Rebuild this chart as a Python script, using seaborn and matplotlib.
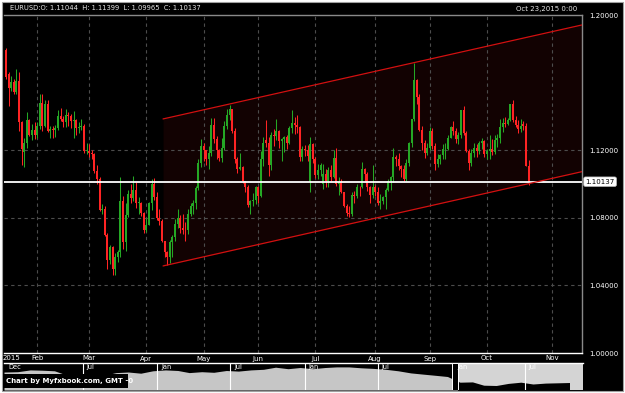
import numpy as np
import pandas as pd
import matplotlib
matplotlib.use("Agg")
import matplotlib.pyplot as plt
import matplotlib.transforms as mtrans
import matplotlib.dates as mdates
from matplotlib.patches import Rectangle
import seaborn as sns

# ------------------------------------------------------------------ data
first_day = "2015-01-15"
last_day = "2015-10-23"

opens = [1.1790, 1.1650, 1.1567, 1.1605, 1.1545, 1.1610, 1.1365, 1.1190, 1.1245, 1.1380,
         1.1290, 1.1320, 1.1290, 1.1345, 1.1480, 1.1345, 1.1475, 1.1315, 1.1325, 1.1320,
         1.1330, 1.1400, 1.1385, 1.1365, 1.1410, 1.1405, 1.1375, 1.1380, 1.1330, 1.1335,
         1.1345, 1.1195, 1.1195, 1.1185, 1.1175, 1.1075, 1.1030, 1.0845, 1.0850, 1.0700,
         1.0550, 1.0630, 1.0495, 1.0570, 1.0595, 1.0900, 1.0655, 1.0815, 1.0940, 1.0920,
         1.0965, 1.0890, 1.0890, 1.0830, 1.0730, 1.0760, 1.0885, 1.1000, 1.0925, 1.0800,
         1.0780, 1.0660, 1.0600, 1.0570, 1.0655, 1.0685, 1.0765, 1.0800, 1.0740, 1.0730,
         1.0725, 1.0825, 1.0870, 1.0885, 1.0975, 1.1125, 1.1225, 1.1200, 1.1145, 1.1185,
         1.1350, 1.1265, 1.1200, 1.1155, 1.1215, 1.1345, 1.1410, 1.1445, 1.1315, 1.1145,
         1.1090, 1.1100, 1.1015, 1.0985, 1.0875, 1.0900, 1.0905, 1.0985, 1.0930, 1.1150,
         1.1260, 1.1245, 1.1110, 1.1290, 1.1285, 1.1315, 1.1255, 1.1265, 1.1280, 1.1245,
         1.1330, 1.1360, 1.1350, 1.1335, 1.1160, 1.1210, 1.1200, 1.1010, 1.1235, 1.1145,
         1.1055, 1.1085, 1.1000, 1.1060, 1.1015, 1.1080, 1.1040, 1.1155, 1.1000, 1.1010,
         1.0950, 1.0870, 1.0830, 1.0825, 1.0935, 1.0930, 1.0985, 1.0980, 1.1090, 1.1060,
         1.0985, 1.0935, 1.0985, 1.0955, 1.0890, 1.0900, 1.0925, 1.0965, 1.1015, 1.1040,
         1.1160, 1.1150, 1.1105, 1.1090, 1.1030, 1.1125, 1.1240, 1.1385, 1.1615, 1.1515,
         1.1320, 1.1245, 1.1185, 1.1215, 1.1315, 1.1225, 1.1120, 1.1150, 1.1170, 1.1205,
         1.1210, 1.1275, 1.1340, 1.1315, 1.1265, 1.1290, 1.1435, 1.1300, 1.1195, 1.1125,
         1.1185, 1.1215, 1.1195, 1.1240, 1.1255, 1.1175, 1.1195, 1.1210, 1.1190, 1.1260,
         1.1275, 1.1340, 1.1360, 1.1355, 1.1380, 1.1475, 1.1380, 1.1350, 1.1325, 1.1355,
         1.1345, 1.11044]
highs = [1.1802, 1.1660, 1.1640, 1.1620, 1.1680, 1.1660, 1.1370, 1.1270, 1.1425, 1.1385,
         1.1355, 1.1365, 1.1365, 1.1535, 1.1535, 1.1495, 1.1500, 1.1345, 1.1345, 1.1350,
         1.1435, 1.1450, 1.1405, 1.1445, 1.1425, 1.1415, 1.1430, 1.1385, 1.1365, 1.1385,
         1.1355, 1.1240, 1.1235, 1.1200, 1.1185, 1.1115, 1.1040, 1.0880, 1.0870, 1.0710,
         1.0640, 1.0635, 1.0590, 1.0610, 1.1043, 1.0930, 1.0890, 1.0965, 1.1000, 1.1050,
         1.1010, 1.0925, 1.0895, 1.0835, 1.0800, 1.0895, 1.1030, 1.1035, 1.0950, 1.0850,
         1.0790, 1.0665, 1.0605, 1.0670, 1.0700, 1.0790, 1.0850, 1.0815, 1.0820, 1.0775,
         1.0850, 1.0885, 1.0905, 1.0990, 1.1145, 1.1265, 1.1240, 1.1200, 1.1225, 1.1390,
         1.1390, 1.1285, 1.1210, 1.1275, 1.1375, 1.1445, 1.1467, 1.1445, 1.1330, 1.1160,
         1.1185, 1.1105, 1.1020, 1.0995, 1.0905, 1.0945, 1.0990, 1.0990, 1.1195, 1.1280,
         1.1380, 1.1280, 1.1305, 1.1325, 1.1385, 1.1320, 1.1275, 1.1285, 1.1290, 1.1345,
         1.1435, 1.1395, 1.1410, 1.1345, 1.1225, 1.1230, 1.1230, 1.1280, 1.1240, 1.1160,
         1.1120, 1.1125, 1.1120, 1.1090, 1.1100, 1.1115, 1.1200, 1.1215, 1.1040, 1.1030,
         1.0955, 1.0880, 1.0870, 1.0950, 1.0960, 1.1000, 1.0990, 1.1130, 1.1095, 1.1070,
         1.0990, 1.1110, 1.0995, 1.0980, 1.0940, 1.0930, 1.0975, 1.1030, 1.1050, 1.1215,
         1.1170, 1.1185, 1.1115, 1.1110, 1.1145, 1.1250, 1.1385, 1.1714, 1.1620, 1.1535,
         1.1345, 1.1260, 1.1240, 1.1335, 1.1330, 1.1245, 1.1175, 1.1175, 1.1235, 1.1245,
         1.1290, 1.1345, 1.1370, 1.1330, 1.1305, 1.1440, 1.1460, 1.1315, 1.1205, 1.1205,
         1.1245, 1.1235, 1.1255, 1.1270, 1.1260, 1.1205, 1.1290, 1.1265, 1.1290, 1.1295,
         1.1385, 1.1390, 1.1395, 1.1390, 1.1475, 1.1495, 1.1400, 1.1380, 1.1385, 1.1375,
         1.1360, 1.11399]
lows = [1.1620, 1.1460, 1.1550, 1.1535, 1.1530, 1.1315, 1.1115, 1.1098, 1.1215, 1.1285,
        1.1260, 1.1265, 1.1270, 1.1325, 1.1315, 1.1340, 1.1310, 1.1270, 1.1270, 1.1280,
        1.1320, 1.1375, 1.1340, 1.1335, 1.1345, 1.1330, 1.1275, 1.1290, 1.1300, 1.1320,
        1.1185, 1.1175, 1.1160, 1.1145, 1.1065, 1.1000, 1.0840, 1.0820, 1.0695, 1.0495,
        1.0525, 1.0460, 1.0460, 1.0540, 1.0570, 1.0615, 1.0605, 1.0805, 1.0885, 1.0900,
        1.0860, 1.0825, 1.0810, 1.0710, 1.0715, 1.0755, 1.0845, 1.0905, 1.0785, 1.0760,
        1.0655, 1.0570, 1.0520, 1.0535, 1.0570, 1.0660, 1.0740, 1.0710, 1.0705, 1.0660,
        1.0705, 1.0810, 1.0820, 1.0850, 1.0965, 1.1100, 1.1135, 1.1110, 1.1090, 1.1165,
        1.1245, 1.1145, 1.1135, 1.1130, 1.1200, 1.1325, 1.1380, 1.1300, 1.1125, 1.1065,
        1.1080, 1.1005, 1.0955, 1.0865, 1.0820, 1.0870, 1.0880, 1.0885, 1.0925, 1.1105,
        1.1220, 1.1050, 1.1080, 1.1225, 1.1260, 1.1215, 1.1135, 1.1190, 1.1205, 1.1235,
        1.1300, 1.1295, 1.1300, 1.1135, 1.1135, 1.1165, 1.1135, 1.0955, 1.1125, 1.1035,
        1.1030, 1.1050, 1.0970, 1.0985, 1.0985, 1.1015, 1.1035, 1.0990, 1.0935, 1.0945,
        1.0865, 1.0810, 1.0805, 1.0810, 1.0890, 1.0920, 1.0930, 1.0975, 1.1010, 1.0960,
        1.0885, 1.0920, 1.0930, 1.0875, 1.0850, 1.0880, 1.0850, 1.0960, 1.0965, 1.1010,
        1.1105, 1.1085, 1.1040, 1.1015, 1.1015, 1.1105, 1.1220, 1.1375, 1.1475, 1.1315,
        1.1200, 1.1155, 1.1170, 1.1200, 1.1205, 1.1085, 1.1100, 1.1120, 1.1150, 1.1150,
        1.1200, 1.1270, 1.1290, 1.1245, 1.1235, 1.1275, 1.1290, 1.1190, 1.1085, 1.1105,
        1.1160, 1.1160, 1.1175, 1.1205, 1.1160, 1.1150, 1.1150, 1.1170, 1.1180, 1.1220,
        1.1245, 1.1310, 1.1340, 1.1350, 1.1370, 1.1365, 1.1335, 1.1300, 1.1310, 1.1320,
        1.1105, 1.09965]
closes = [1.1632, 1.1567, 1.1605, 1.1545, 1.1610, 1.1365, 1.1205, 1.1245, 1.1380, 1.1290,
          1.1320, 1.1290, 1.1345, 1.1480, 1.1345, 1.1475, 1.1315, 1.1325, 1.1320, 1.1330,
          1.1400, 1.1385, 1.1365, 1.1410, 1.1405, 1.1375, 1.1380, 1.1330, 1.1335, 1.1345,
          1.1195, 1.1195, 1.1185, 1.1175, 1.1075, 1.1030, 1.0845, 1.0850, 1.0700, 1.0550,
          1.0630, 1.0495, 1.0570, 1.0595, 1.0900, 1.0655, 1.0815, 1.0940, 1.0920, 1.0965,
          1.0890, 1.0890, 1.0830, 1.0730, 1.0760, 1.0885, 1.1000, 1.0925, 1.0800, 1.0780,
          1.0660, 1.0600, 1.0570, 1.0655, 1.0685, 1.0765, 1.0800, 1.0740, 1.0730, 1.0725,
          1.0825, 1.0870, 1.0885, 1.0975, 1.1125, 1.1225, 1.1200, 1.1145, 1.1185, 1.1350,
          1.1265, 1.1200, 1.1155, 1.1215, 1.1345, 1.1410, 1.1445, 1.1315, 1.1145, 1.1090,
          1.1100, 1.1015, 1.0985, 1.0875, 1.0900, 1.0905, 1.0985, 1.0930, 1.1150, 1.1245,
          1.1245, 1.1110, 1.1290, 1.1285, 1.1315, 1.1255, 1.1265, 1.1280, 1.1245, 1.1330,
          1.1360, 1.1350, 1.1335, 1.1160, 1.1210, 1.1200, 1.1165, 1.1235, 1.1145, 1.1055,
          1.1085, 1.1110, 1.1060, 1.1015, 1.1080, 1.1040, 1.1155, 1.1000, 1.1010, 1.0950,
          1.0870, 1.0830, 1.0825, 1.0935, 1.0930, 1.0985, 1.0980, 1.1090, 1.1060, 1.0985,
          1.0935, 1.0985, 1.0955, 1.0890, 1.0900, 1.0925, 1.0965, 1.1015, 1.1040, 1.1160,
          1.1150, 1.1105, 1.1090, 1.1030, 1.1125, 1.1240, 1.1385, 1.1615, 1.1515, 1.1320,
          1.1245, 1.1185, 1.1215, 1.1315, 1.1225, 1.1120, 1.1150, 1.1170, 1.1205, 1.1210,
          1.1275, 1.1340, 1.1315, 1.1265, 1.1290, 1.1435, 1.1300, 1.1195, 1.1125, 1.1185,
          1.1215, 1.1195, 1.1240, 1.1255, 1.1175, 1.1195, 1.1210, 1.1190, 1.1260, 1.1275,
          1.1340, 1.1360, 1.1355, 1.1380, 1.1475, 1.1380, 1.1350, 1.1325, 1.1345, 1.1345,
          1.1105, 1.10137]

header_text = "EURUSD:O: 1.11044  H: 1.11399  L: 1.09965  C: 1.10137"
stamp_text = "Oct 23,2015 0:00"
last_price = 1.10137
y_ticks = [1.00, 1.04, 1.08, 1.12, 1.20]
y_grid = [1.04, 1.08, 1.12]
year_label = "2015"
month_labels = ["Feb", "Mar", "Apr", "May", "Jun", "Jul", "Aug", "Sep", "Oct", "Nov"]
month_starts = ["2015-02-01", "2015-03-01", "2015-04-01", "2015-05-01", "2015-06-01",
                "2015-07-01", "2015-08-01", "2015-09-01", "2015-10-01", "2015-11-01"]

# trend channel (bar index, price)
chan_x = [60.4, 221.5]
chan_upper = [1.1385, 1.1941]
chan_lower = [1.0515, 1.1073]

# navigator (long history, monthly)
nav_values = [1.300,
              1.305, 1.335, 1.330, 1.320, 1.250, 1.255, 1.225, 1.245, 1.290, 1.300, 1.280, 1.320,
              1.335, 1.325, 1.290, 1.305, 1.295, 1.325, 1.315, 1.335, 1.345, 1.380, 1.355, 1.375,
              1.355, 1.375, 1.385, 1.385, 1.370, 1.360, 1.345, 1.320, 1.285, 1.265, 1.245, 1.225,
              1.130, 1.135, 1.080, 1.075, 1.110, 1.130, 1.100, 1.115, 1.120, 1.125]
nav_labels = ["Dec", "Jul", "Jan", "Jul", "Jan", "Jul", "Jan", "Jul"]
nav_label_dates = ["2011-12-28", "2012-07-10", "2013-01-10", "2013-07-10",
                   "2014-01-10", "2014-07-10", "2015-01-14", "2015-07-10"]
nav_separators = ["2012-07-01", "2013-01-01", "2013-07-01", "2014-01-01",
                  "2014-07-01", "2015-07-01"]
credit = "Chart by Myfxbook.com, GMT -0"

# ------------------------------------------------------------------ style
sns.set_style("dark")
plt.rcParams["font.family"] = ["DejaVu Sans"]

W, H = 625, 393
fig = plt.figure(figsize=(W / 100, H / 100), dpi=100, facecolor="white")


def fx(px):
    return px / W


def fy(py):
    return 1 - py / H


# black panel behind everything
fig.patches.append(Rectangle((fx(2), fy(391)), fx(621), 389 / H, transform=fig.transFigure,
                             facecolor="black", edgecolor="#a0a0a0", lw=0.8, zorder=-5))

# ------------------------------------------------------------------ main chart
ax = fig.add_axes([fx(4), fy(353), fx(578), 338 / H])
ax.set_facecolor("black")
o = np.array(opens); h = np.array(highs); l = np.array(lows); c = np.array(closes)
x = np.arange(len(c))
up = c >= o
cols = np.where(up, "#25a825", "#ff2424")

ax.set_xlim(-0.77, 221.54)
ax.set_ylim(1.00, 1.20)

# channel shading
ax.fill_between(chan_x, chan_lower, chan_upper, color="#120202", lw=0, zorder=1)

# month positions
dates = pd.bdate_range(first_day, last_day)
month_pos = []
for ms in month_starts:
    t = pd.Timestamp(ms)
    if t <= dates[-1]:
        month_pos.append(int(np.searchsorted(dates, t)))
    else:
        month_pos.append(len(dates) - 1 + (t - dates[-1]).days)

for mp in month_pos:
    ax.axvline(mp, color="#4c4c4c", lw=0.8, ls=(0, (3, 3)), zorder=2)
for g in y_grid:
    ax.axhline(g, color="#4c4c4c", lw=0.8, ls=(0, (3, 3)), zorder=2)

# candles
ax.vlines(x, l, h, colors=cols, lw=0.75, zorder=3)
ax.bar(x, np.maximum(np.abs(c - o), 0.0004), bottom=np.minimum(o, c), width=0.76,
       color=cols, linewidth=0, zorder=4)

# last price line
ax.axhline(last_price, color="white", lw=1.3, zorder=5)

# channel lines
sns.lineplot(x=chan_x, y=chan_upper, ax=ax, color="#d21010", lw=0.9, zorder=6)
sns.lineplot(x=chan_x, y=chan_lower, ax=ax, color="#d21010", lw=0.9, zorder=6)

# axes ticks
ax.yaxis.tick_right()
ax.set_yticks(y_ticks)
ax.set_yticklabels([f"{v:.5f}" for v in y_ticks])
ax.tick_params(axis="y", colors="white", labelsize=5, length=0, pad=5.5)
ax.set_xticks([2] + month_pos)
ax.set_xticklabels([year_label] + month_labels)
ax.tick_params(axis="x", colors="white", labelsize=5, length=0, pad=1.8)
ax.set_xlabel(""); ax.set_ylabel("")
ax.grid(False)
ax.spines["left"].set_visible(False)
ax.spines["top"].set_color("#8a8a8a"); ax.spines["top"].set_linewidth(1.0)
ax.spines["right"].set_color("#8a8a8a"); ax.spines["right"].set_linewidth(1.0)
ax.spines["bottom"].set_color("white"); ax.spines["bottom"].set_linewidth(1.0)
for s in ["top", "right", "bottom"]:
    ax.spines[s].set_visible(True)

# price flag
tr = mtrans.blended_transform_factory(ax.transAxes, ax.transData)
ax.text(1.006, last_price, f"{last_price:.5f}", transform=tr, ha="left", va="center",
        fontsize=5, color="black", clip_on=False, zorder=10,
        bbox=dict(boxstyle="round,pad=0.25", fc="white", ec="#c0c0c0", lw=0.5))

# header
fig.text(fx(10), fy(8.5), header_text, fontsize=4.9, color="#e6e6e6", va="center", ha="left")
fig.text(fx(577), fy(8.5), stamp_text, fontsize=5.0, color="#e6e6e6", va="center", ha="right")

# ------------------------------------------------------------------ navigator
nav = fig.add_axes([fx(4), fy(390), fx(579), 27 / H])
nav.set_facecolor("black")
nav_dates = pd.date_range("2011-12-01", "2015-10-01", freq="MS") + pd.Timedelta(days=20)
nav_num = mdates.date2num(nav_dates)
x0 = mdates.date2num(pd.Timestamp("2011-12-18"))
x1 = mdates.date2num(pd.Timestamp("2015-11-22"))
nav.set_xlim(x0, x1)
nav.set_ylim(1.0, 1.45)
t = np.linspace(x0, x1, 2000)
v = np.interp(t, nav_num, nav_values)
sel_start = mdates.date2num(pd.Timestamp(first_day))
sel = t >= sel_start
has = t <= nav_num[-1]
nav.fill_between(t, 1.0, v, where=~sel, color="#c6c6c6", lw=0, interpolate=True)
nav.fill_between(t, v, 1.45, where=sel & has, color="#d4d4d4", lw=0)
nav.fill_between(t, 1.0, 1.45, where=sel & ~has, color="#d4d4d4", lw=0)
for sd in nav_separators:
    nav.axvline(mdates.date2num(pd.Timestamp(sd)), color="white", lw=0.8)
nav.add_patch(Rectangle((mdates.date2num(pd.Timestamp("2015-01-01")), 1.0),
                        sel_start - mdates.date2num(pd.Timestamp("2015-01-01")), 0.45,
                        facecolor="black", edgecolor="white", lw=0.7, zorder=5))
for lab, ld in zip(nav_labels, nav_label_dates):
    nav.text(mdates.date2num(pd.Timestamp(ld)), 0.86, lab, transform=mtrans.blended_transform_factory(
        nav.transData, nav.transAxes), fontsize=4.8, color="white", va="center", ha="left", zorder=6)
nav.set_xticks([]); nav.set_yticks([])
nav.grid(False)
for s in nav.spines.values():
    s.set_visible(False)
nav.spines["top"].set_visible(True)
nav.spines["top"].set_color("white")
nav.spines["top"].set_linewidth(1.0)

# credit box
fig.patches.append(Rectangle((fx(3), fy(388)), fx(125), 14 / H, transform=fig.transFigure,
                             facecolor="black", edgecolor="none", zorder=20))
fig.text(fx(6), fy(381), credit, fontsize=5, fontweight="bold", color="white",
         va="center", ha="left", zorder=21)

fig.savefig("out.png", dpi=100, facecolor=fig.get_facecolor())
